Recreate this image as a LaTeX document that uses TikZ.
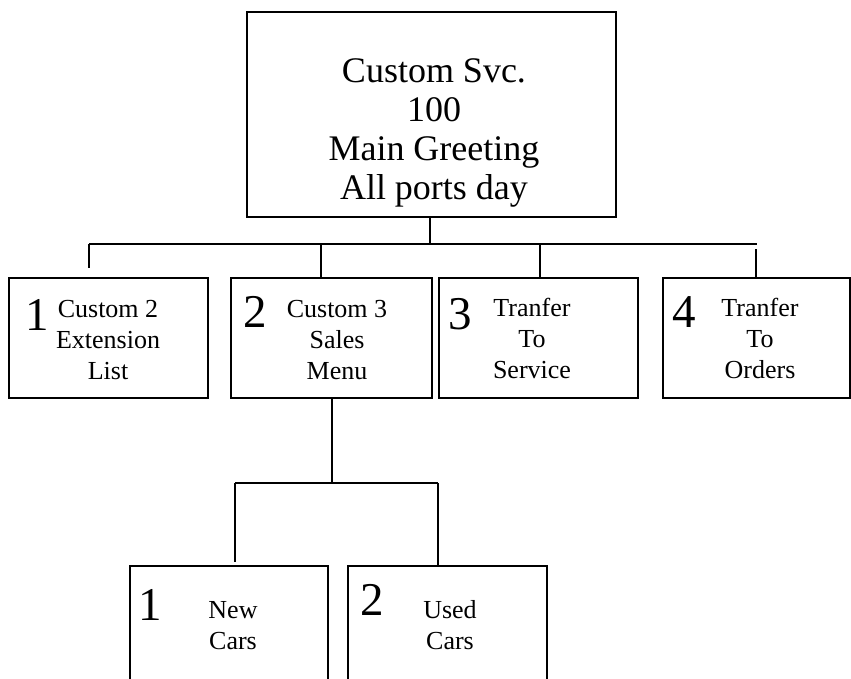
\documentclass[tikz,border=0pt]{standalone}
\usepackage{fontspec}
\setmainfont{Liberation Serif}
\begin{document}
\begin{tikzpicture}[x=1pt,y=-1pt,
  box/.style={draw,line width=2.2pt,inner sep=0pt,outer sep=0pt},
  wire/.style={line width=2.2pt},
  bigtxt/.style={inner sep=0pt,align=center,font=\fontsize{36}{39}\selectfont},
  txt/.style={inner sep=0pt,align=center,font=\fontsize{26}{31}\selectfont,anchor=base},
  num/.style={inner sep=0pt,anchor=base,font=\fontsize{47}{50}\selectfont}]
\clip (0,0) rectangle (851,678);
\fill[white] (0,0) rectangle (851,678);
% boxes
\node[box,minimum width=369pt,minimum height=205pt] (top) at (431.5,114.5) {};
\node[box,minimum width=199pt,minimum height=120pt] (b1) at (108.5,338) {};
\node[box,minimum width=201pt,minimum height=120pt] (b2) at (331.5,338) {};
\node[box,minimum width=199pt,minimum height=120pt] (b3) at (538.5,338) {};
\node[box,minimum width=187pt,minimum height=120pt] (b4) at (756.5,338) {};
\node[box,minimum width=198pt,minimum height=140pt] (c1) at (229,636) {};
\node[box,minimum width=199pt,minimum height=140pt] (c2) at (447.5,636) {};
% texts (anchor=base is the last line's baseline)
\node[bigtxt,anchor=base] (ttop) at (434,199) {Custom Svc.\\100\\Main Greeting\\All ports day};
\node[num] (n1) at (37,330) {1};
\node[txt] (t1) at (108,379) {Custom 2\\Extension\\List};
\node[num] (n2) at (255.5,327) {2};
\node[txt] (t2) at (337,379) {Custom 3\\Sales\\Menu};
\node[num] (n3) at (460,329) {3};
\node[txt] (t3) at (532,378) {Tranfer\\To\\Service};
\node[num] (n4) at (684.5,327) {4};
\node[txt] (t4) at (760,378) {Tranfer\\To\\Orders};
\node[num] (m1) at (150.5,620) {1};
\node[txt] (u1) at (233,649) {New\\Cars};
\node[num] (m2) at (372.5,615) {2};
\node[txt] (u2) at (450,649) {Used\\Cars};
% connector coordinates
\coordinate (busT) at (430,244);
\coordinate (busL) at (89,244);
\coordinate (busR) at (757,244);
\coordinate (d1) at (89,268);
\coordinate (d4) at (756,249);
\coordinate (sub) at (332,483);
\coordinate (subL) at (235,483);
\coordinate (subR) at (438,483);
\coordinate (e1) at (235,562);
% connectors
\draw[wire] (top.south -| busT) -- (busT);
\draw[wire] (busL) -- (busR);
\draw[wire] (busL) -- (d1);
\draw[wire] (321,244) -- (b2.north -| 321,0);
\draw[wire] (540,244) -- (b3.north -| 540,0);
\draw[wire] (d4) -- (b4.north -| d4);
\draw[wire] (b2.south -| sub) -- (sub);
\draw[wire] (subL) -- (subR);
\draw[wire] (subL) -- (e1);
\draw[wire] (subR) -- (c2.north -| subR);
\end{tikzpicture}
\end{document}
